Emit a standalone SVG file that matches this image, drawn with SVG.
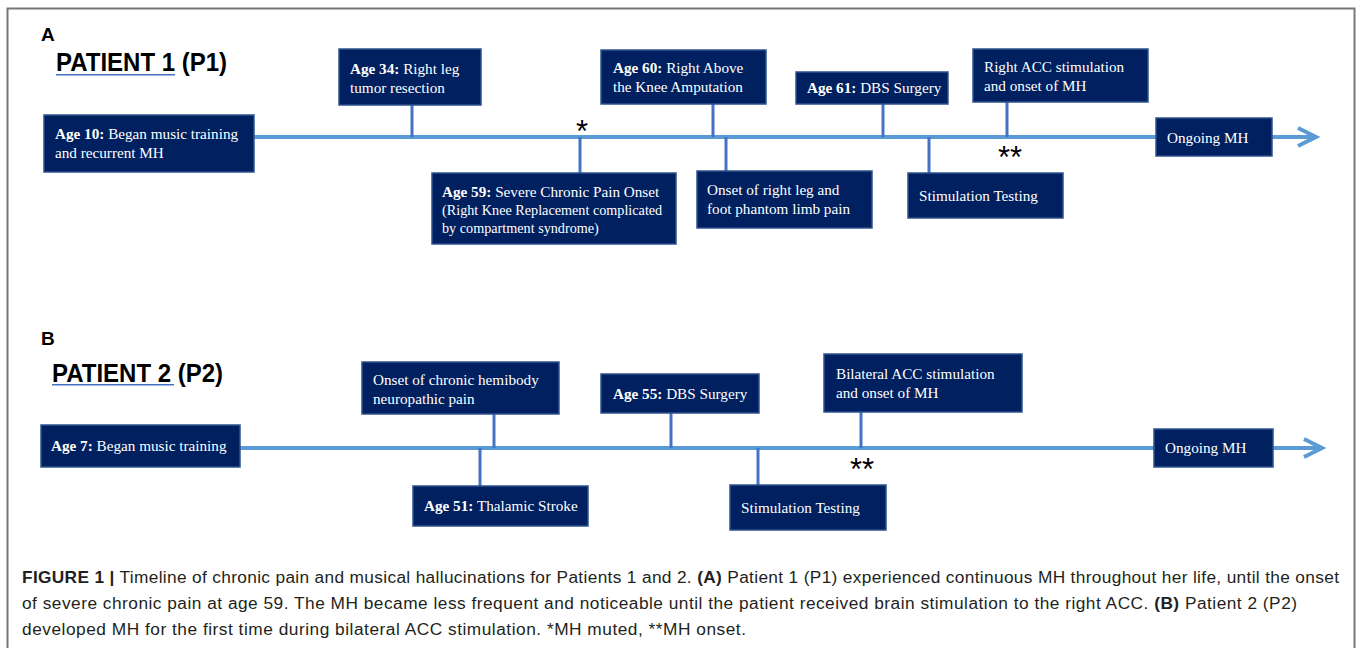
<svg xmlns="http://www.w3.org/2000/svg" width="1358" height="648" viewBox="0 0 1358 648">
<style>
.bx{fill:#002060;stroke:#2f528f;stroke-width:1.5}
.t{font-family:"Liberation Serif","Times New Roman",serif;font-size:15.2px;fill:#ffffff}
.ts{font-size:14.2px}
.b{font-weight:bold}
.tl{stroke:#5b9bd5;stroke-width:4;fill:none}
.cn{stroke:#4472c4;stroke-width:3;fill:none}
.lab{font-family:"Liberation Sans",Arial,sans-serif;font-weight:bold;fill:#000000}
.ast{font-family:"Liberation Sans",Arial,sans-serif;font-size:31px;fill:#000000}
.cap{font-family:"Liberation Sans",Arial,sans-serif;font-size:17.3px;fill:#231f20}
</style>
<rect x="0" y="0" width="1358" height="648" fill="#ffffff"/>
<rect x="7.5" y="8.5" width="1347" height="700" fill="none" stroke="#777777" stroke-width="2"/>

<!-- Panel labels -->
<text class="lab" x="41" y="41" font-size="19">A</text>
<text class="lab" transform="translate(56,71) scale(1,1.1)" font-size="24">PATIENT 1 (P1)</text>
<line x1="56" y1="74.7" x2="175" y2="74.7" stroke="#4472c4" stroke-width="1.5"/>
<text class="lab" x="41" y="345" font-size="19">B</text>
<text class="lab" transform="translate(52,381.5) scale(1,1.1)" font-size="24">PATIENT 2 (P2)</text>
<line x1="52" y1="384.7" x2="174" y2="384.7" stroke="#4472c4" stroke-width="1.5"/>

<g id="connectors">
  <line class="tl" x1="254" y1="137" x2="1314" y2="137"/>
  <polyline class="tl" points="1298,128 1316,137 1298,146"/>
  <line class="cn" x1="412" y1="105" x2="412" y2="137"/>
  <line class="cn" x1="580" y1="137" x2="580" y2="173"/>
  <line class="cn" x1="713" y1="104" x2="713" y2="137"/>
  <line class="cn" x1="726" y1="137" x2="726" y2="171"/>
  <line class="cn" x1="883" y1="104" x2="883" y2="137"/>
  <line class="cn" x1="929" y1="137" x2="929" y2="173"/>
  <line class="cn" x1="1007" y1="102" x2="1007" y2="137"/>

  <line class="tl" x1="240" y1="448" x2="1320" y2="448"/>
  <polyline class="tl" points="1304,439 1322,448 1304,457"/>
  <line class="cn" x1="494" y1="414" x2="494" y2="448"/>
  <line class="cn" x1="480" y1="448" x2="480" y2="486"/>
  <line class="cn" x1="671" y1="413" x2="671" y2="448"/>
  <line class="cn" x1="758" y1="448" x2="758" y2="485"/>
  <line class="cn" x1="861" y1="412" x2="861" y2="448"/>
</g>

<text class="ast" x="582" y="141.5" text-anchor="middle">*</text>
<text class="ast" x="1010" y="167.5" text-anchor="middle">**</text>
<text class="ast" x="862" y="479.5" text-anchor="middle">**</text>

<!-- Panel A nodes -->
<g id="a-age10">
  <rect class="bx" x="44" y="115" width="210" height="57"/>
  <text class="t" x="55" y="139"><tspan class="b">Age 10:</tspan> Began music training</text>
  <text class="t" x="55" y="158">and recurrent MH</text>
</g>
<g id="a-age34">
  <rect class="bx" x="339" y="49" width="142" height="56"/>
  <text class="t" x="350" y="74"><tspan class="b">Age 34:</tspan> Right leg</text>
  <text class="t" x="350" y="93">tumor resection</text>
</g>
<g id="a-age59">
  <rect class="bx" x="432" y="173" width="244" height="71"/>
  <text class="t" x="442" y="197"><tspan class="b">Age 59:</tspan> Severe Chronic Pain Onset</text>
  <text class="t ts" x="442" y="215">(Right Knee Replacement complicated</text>
  <text class="t ts" x="442" y="233">by compartment syndrome)</text>
</g>
<g id="a-age60">
  <rect class="bx" x="601" y="50" width="165" height="54"/>
  <text class="t" x="613" y="73"><tspan class="b">Age 60:</tspan> Right Above</text>
  <text class="t" x="613" y="92">the Knee Amputation</text>
</g>
<g id="a-phantom">
  <rect class="bx" x="697" y="171" width="175" height="57"/>
  <text class="t" x="707" y="195">Onset of right leg and</text>
  <text class="t" x="707" y="214">foot phantom limb pain</text>
</g>
<g id="a-age61">
  <rect class="bx" x="796" y="72" width="152" height="32"/>
  <text class="t" x="807" y="93"><tspan class="b">Age 61:</tspan> DBS Surgery</text>
</g>
<g id="a-rightacc">
  <rect class="bx" x="973" y="49" width="175" height="53"/>
  <text class="t" x="984" y="72">Right ACC stimulation</text>
  <text class="t" x="984" y="91">and onset of MH</text>
</g>
<g id="a-stimtest">
  <rect class="bx" x="908" y="173" width="155" height="45"/>
  <text class="t" x="919" y="201">Stimulation Testing</text>
</g>
<g id="a-ongoing">
  <rect class="bx" x="1156" y="118" width="116" height="38"/>
  <text class="t" x="1167" y="143">Ongoing MH</text>
</g>

<!-- Panel B nodes -->
<g id="b-age7">
  <rect class="bx" x="41" y="425" width="199" height="42"/>
  <text class="t" x="51" y="451"><tspan class="b">Age 7:</tspan> Began music training</text>
</g>
<g id="b-hemibody">
  <rect class="bx" x="362" y="362" width="197" height="52"/>
  <text class="t" x="373" y="385">Onset of chronic hemibody</text>
  <text class="t" x="373" y="404">neuropathic pain</text>
</g>
<g id="b-age51">
  <rect class="bx" x="413" y="486" width="175" height="40"/>
  <text class="t" x="424" y="511"><tspan class="b">Age 51:</tspan> Thalamic Stroke</text>
</g>
<g id="b-age55">
  <rect class="bx" x="601" y="374" width="158" height="39"/>
  <text class="t" x="613" y="399"><tspan class="b">Age 55:</tspan> DBS Surgery</text>
</g>
<g id="b-bilateral">
  <rect class="bx" x="824" y="354" width="198" height="58"/>
  <text class="t" x="836" y="379">Bilateral ACC stimulation</text>
  <text class="t" x="836" y="398">and onset of MH</text>
</g>
<g id="b-stimtest">
  <rect class="bx" x="730" y="485" width="156" height="45"/>
  <text class="t" x="741" y="513">Stimulation Testing</text>
</g>
<g id="b-ongoing">
  <rect class="bx" x="1154" y="429" width="119" height="38"/>
  <text class="t" x="1165" y="453">Ongoing MH</text>
</g>

<!-- Caption -->
<text class="cap" x="22" y="582.5" textLength="1317" lengthAdjust="spacing"><tspan font-weight="bold">FIGURE 1 |</tspan> Timeline of chronic pain and musical hallucinations for Patients 1 and 2. <tspan font-weight="bold">(A)</tspan> Patient 1 (P1) experienced continuous MH throughout her life, until the onset</text>
<text class="cap" x="22" y="609" textLength="1275" lengthAdjust="spacing">of severe chronic pain at age 59. The MH became less frequent and noticeable until the patient received brain stimulation to the right ACC. <tspan font-weight="bold">(B)</tspan> Patient 2 (P2)</text>
<text class="cap" x="22" y="635" textLength="724" lengthAdjust="spacing">developed MH for the first time during bilateral ACC stimulation. *MH muted, **MH onset.</text>
</svg>
